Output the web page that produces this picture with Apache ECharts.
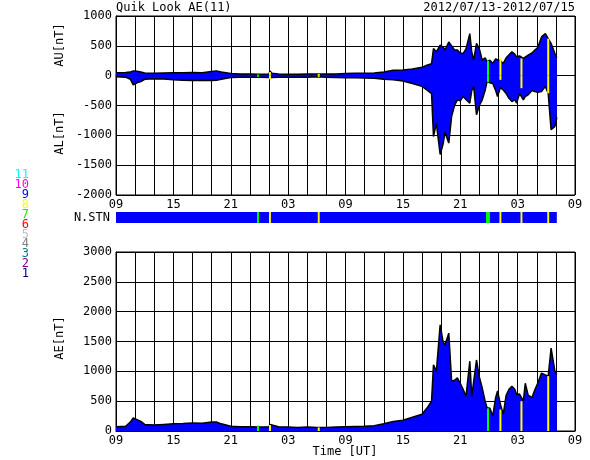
<!DOCTYPE html>
<html>
<head>
<meta charset="utf-8">
<script src="https://cdn.jsdelivr.net/npm/echarts@6/dist/echarts.min.js"></script>
<style>html,body{margin:0;background:#fff}#main{width:590px;height:460px}</style>
</head>
<body>
<div id="main"></div>
<script>
// hours since 2012/07/13 09:00 UT
var hours = [0,1,1.5,1.8,2.2,2.6,3,4,5,6,
	7,8,9,10,10.5,11,12,13,14,15,
	16,16.1,16.3,17,18,19,20,21,22,23,
	24,25,26,27,28,29,30,31,32,32.5,
	33,33.2,33.5,33.9,34.2,34.4,34.8,35.1,35.4,35.7,
	36,36.3,36.6,37,37.2,37.4,37.7,38,38.3,38.6,
	38.8,39.1,39.4,39.7,39.9,40.2,40.5,40.8,41.1,41.4,
	41.7,41.9,42.2,42.6,42.8,43.1,43.5,43.8,44.1,44.5,
	44.9,45.2,45.5,45.9,46.1];
var au = [50,55,60,80,75,60,45,40,45,50,
	50,55,50,70,80,60,35,30,30,25,
	30,80,40,30,25,25,30,30,30,30,
	35,40,40,45,60,90,95,110,140,175,
	200,455,400,510,480,430,565,500,430,430,
	380,370,450,705,400,260,540,450,260,300,
	235,260,205,280,290,250,205,300,350,400,
	360,315,330,290,300,345,380,430,470,650,
	705,620,540,370,300];
var al = [-20,-25,-60,-155,-120,-100,-60,-50,-55,-70,
	-75,-80,-80,-80,-75,-60,-30,-25,-25,-25,
	-30,-60,-30,-25,-25,-25,-25,-20,-25,-30,
	-35,-35,-40,-45,-60,-70,-90,-130,-180,-240,
	-300,-1020,-800,-1320,-1150,-950,-1130,-680,-500,-405,
	-420,-350,-400,-460,-250,-180,-655,-500,-405,-250,
	-100,-120,-130,-250,-350,-200,-240,-300,-380,-435,
	-400,-460,-300,-405,-350,-320,-250,-265,-280,-265,
	-180,-300,-905,-850,-700];
var ae = [70,80,150,220,190,160,110,100,110,120,
	125,135,130,150,150,120,80,70,70,65,
	70,110,80,70,65,60,65,60,60,65,
	70,75,80,90,120,160,180,230,280,380,
	500,1110,1000,1780,1500,1440,1640,830,850,890,
	800,700,580,1170,580,600,1190,900,720,500,
	390,380,250,560,670,450,280,600,700,750,
	700,610,620,500,800,600,560,690,800,970,
	940,920,1390,1000,950];

// station count change marks
var evH = [14.85,16.1,21.2,38.9,40.2,42.4,45.2];
var evColor = ['#00ff00','#ffff00','#ffff00','#00ff00','#ffff00','#ffff00','#ffff00'];
var evAU = [20,60,30,250,290,290,620];
var evAL = [-20,-60,-20,-110,-70,-210,-295];
var evAE = [90,100,60,380,360,500,920];

var stnNums = ['11','10','9','8','7','6','5','4','3','2','1'];
var stnColors = ['#00ffff','#ff00ff','#0000ff','#ffff00','#00ff00','#ff0000','#c0c0c0','#808080','#008080','#800080','#000080'];

var tickLabels = ['09','15','21','03','09','15','21','03','09'];

var FONT = 'DejaVu Sans Mono';
function zip(a, b) { return a.map(function(v, i) { return [v, b[i]]; }); }
function ev(vals) {
	return evH.map(function(h, i) {
		return { value: [h, vals[i]], itemStyle: { color: evColor[i] } };
	});
}

function xAx(idx, show) {
	return {
		type: 'value', gridIndex: idx, min: 0, max: 48, interval: 2, show: show,
		axisLine: { lineStyle: { color: '#000' } }, axisTick: { show: false },
		splitLine: { show: true, lineStyle: { color: '#000', width: 1 } },
		axisLabel: {
			color: '#000', fontFamily: FONT, fontSize: 12, margin: 4,
			formatter: function(v) { return v % 6 === 0 ? tickLabels[v / 6] : ''; }
		}
	};
}
function yAx(idx, mn, mx) {
	return {
		type: 'value', gridIndex: idx, min: mn, max: mx, interval: 500,
		axisLine: { show: true, lineStyle: { color: '#000' } }, axisTick: { show: false },
		splitLine: { show: true, lineStyle: { color: '#000', width: 1 } },
		axisLabel: { color: '#000', fontFamily: FONT, fontSize: 12, margin: 4,
			formatter: function(v) { return String(v); } }
	};
}

var graphics = [
	{ type: 'text', left: 116, top: 2, style: { text: 'Quik Look AE(11)', font: '12px ' + FONT, fill: '#000' } },
	{ type: 'text', right: 15, top: 2, style: { text: '2012/07/13-2012/07/15', font: '12px ' + FONT, fill: '#000' } },
	{ type: 'text', x: 60, y: 45, rotation: Math.PI / 2, style: { text: 'AU[nT]', font: '12px ' + FONT, fill: '#000', align: 'center', verticalAlign: 'middle' } },
	{ type: 'text', x: 60, y: 133, rotation: Math.PI / 2, style: { text: 'AL[nT]', font: '12px ' + FONT, fill: '#000', align: 'center', verticalAlign: 'middle' } },
	{ type: 'text', x: 60, y: 338, rotation: Math.PI / 2, style: { text: 'AE[nT]', font: '12px ' + FONT, fill: '#000', align: 'center', verticalAlign: 'middle' } },
	{ type: 'text', x: 110, y: 218, style: { text: 'N.STN', font: '12px ' + FONT, fill: '#000', align: 'right', verticalAlign: 'middle' } },
	{ type: 'text', x: 345, y: 452, style: { text: 'Time [UT]', font: '12px ' + FONT, fill: '#000', align: 'center', verticalAlign: 'middle' } }
];
stnNums.forEach(function(n, i) {
	graphics.push({ type: 'text', x: 29, y: 175 + i * 9.9, style: { text: n, font: '12px ' + FONT, fill: stnColors[i], align: 'right', verticalAlign: 'middle' } });
});

var stnAreas = [[{ xAxis: 0, itemStyle: { color: '#0000ff' } }, { xAxis: 46.1 }]];
evH.forEach(function(h, i) {
	var w = i === 3 ? 0.2 : 0.1;
	stnAreas.push([{ xAxis: h - w, itemStyle: { color: evColor[i] } }, { xAxis: h + w }]);
});

var lineBase = {
	type: 'line', showSymbol: false, silent: true,
	lineStyle: { color: '#000', width: 1.5 },
	areaStyle: { color: '#0000ff', opacity: 1 }
};
function evBar(xi, vals) {
	return { type: 'bar', xAxisIndex: xi, yAxisIndex: xi, data: ev(vals), barWidth: 2, barGap: '-100%', z: 5, silent: true };
}

var chart = echarts.init(document.getElementById('main'));
chart.setOption({
	animation: false,
	backgroundColor: '#fff',
	graphic: graphics,
	grid: [
		{ left: 116, top: 16, width: 459, height: 179, show: true, borderColor: '#000', borderWidth: 1 },
		{ left: 116, top: 212, width: 459, height: 11 },
		{ left: 116, top: 252, width: 459, height: 179, show: true, borderColor: '#000', borderWidth: 1 }
	],
	xAxis: [xAx(0, true), xAx(1, false), xAx(2, true)],
	yAxis: [yAx(0, -2000, 1000), { type: 'value', gridIndex: 1, min: 0, max: 1, show: false }, yAx(2, 0, 3000)],
	series: [
		Object.assign({}, lineBase, { xAxisIndex: 0, yAxisIndex: 0, data: zip(hours, au) }),
		Object.assign({}, lineBase, { xAxisIndex: 0, yAxisIndex: 0, data: zip(hours, al) }),
		evBar(0, evAU),
		evBar(0, evAL),
		{
			type: 'line', xAxisIndex: 1, yAxisIndex: 1, data: [[0, 0]], showSymbol: false,
			lineStyle: { opacity: 0 }, silent: true,
			markArea: { silent: true, data: stnAreas }
		},
		Object.assign({}, lineBase, { xAxisIndex: 2, yAxisIndex: 2, data: zip(hours, ae) }),
		evBar(2, evAE)
	]
});
</script>
</body>
</html>
